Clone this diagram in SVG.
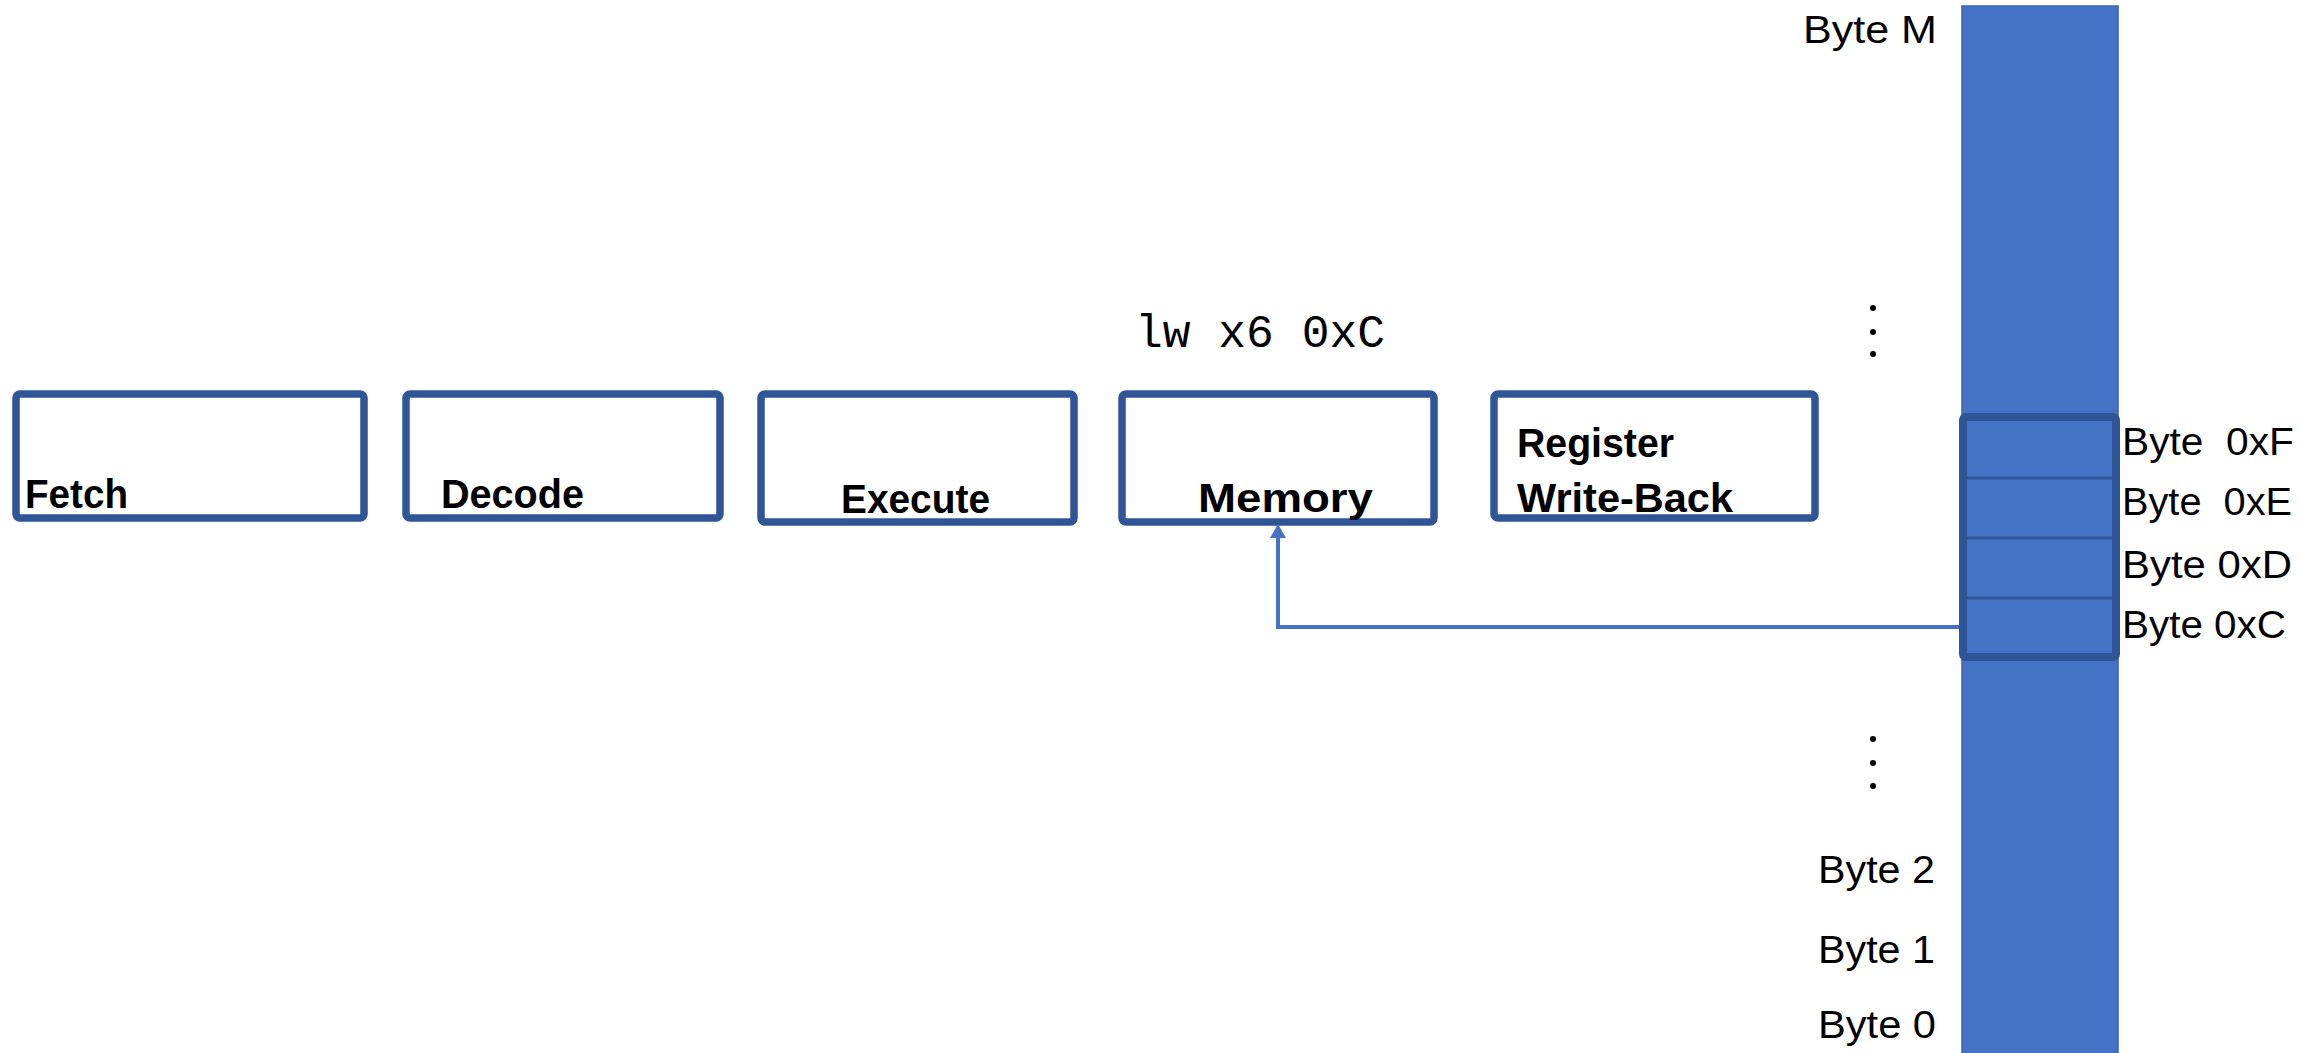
<svg xmlns="http://www.w3.org/2000/svg" width="2299" height="1053" viewBox="0 0 2299 1053">
  <style>
    .stage { fill: #ffffff; stroke: #2F5597; stroke-width: 7.5; }
    .stage-label { font-family: "Liberation Sans", Arial, sans-serif; font-weight: bold; font-size: 41px; fill: #000000; }
    .byte-label { font-family: "Liberation Sans", Arial, sans-serif; font-size: 39px; fill: #000000; white-space: pre; }
    .instr { font-family: "Liberation Mono", "Courier New", monospace; font-size: 46px; fill: #000000; white-space: pre; }
    .mem-col { fill: #4472C4; stroke: #3A62AC; stroke-width: 1.5; }
    .mem-sel { fill: #4472C4; stroke: #2F5597; stroke-width: 8; }
    .cell-div { stroke: #2F5597; stroke-width: 3; }
    .dot { fill: #000000; }
    .link { fill: none; stroke: #4472C4; stroke-width: 4; }
  </style>
  <defs>
    <marker id="arrow" viewBox="0 0 14 16" refX="0" refY="8" markerWidth="14" markerHeight="16" markerUnits="userSpaceOnUse" orient="auto">
      <path d="M0,0 L14,8 L0,16 z" fill="#4472C4"/>
    </marker>
  </defs>

  <rect width="2299" height="1053" fill="#ffffff"/>

  <!-- instruction currently in the memory stage -->
  <text id="instruction" class="instr" x="1135" y="347" textLength="250" lengthAdjust="spacingAndGlyphs">lw x6 0xC</text>

  <!-- pipeline stages -->
  <g id="fetch">
    <rect class="stage" x="16" y="394" width="348" height="124" rx="4"/>
    <text class="stage-label" x="25" y="508" textLength="103" lengthAdjust="spacingAndGlyphs">Fetch</text>
  </g>
  <g id="decode">
    <rect class="stage" x="406" y="394" width="314" height="124" rx="4"/>
    <text class="stage-label" x="441" y="508" textLength="143" lengthAdjust="spacingAndGlyphs">Decode</text>
  </g>
  <g id="execute">
    <rect class="stage" x="761" y="394" width="313" height="128" rx="4"/>
    <text class="stage-label" x="841" y="513" textLength="149" lengthAdjust="spacingAndGlyphs">Execute</text>
  </g>
  <g id="memory">
    <rect class="stage" x="1122" y="394" width="312" height="128" rx="4"/>
    <text class="stage-label" x="1198" y="512" textLength="175" lengthAdjust="spacingAndGlyphs">Memory</text>
  </g>
  <g id="writeback">
    <rect class="stage" x="1494" y="394" width="321" height="124" rx="4"/>
    <text class="stage-label" x="1517" y="457" textLength="157" lengthAdjust="spacingAndGlyphs">Register</text>
    <text class="stage-label" x="1517" y="512" textLength="216" lengthAdjust="spacingAndGlyphs">Write-Back</text>
  </g>

  <!-- byte-addressed memory column -->
  <g id="memory-array">
    <rect class="mem-col" x="1962" y="6" width="156" height="1052"/>
    <text class="byte-label" x="1803" y="43" textLength="134" lengthAdjust="spacingAndGlyphs">Byte M</text>
    <circle class="dot" cx="1873" cy="308" r="3"/>
    <circle class="dot" cx="1873" cy="332" r="3"/>
    <circle class="dot" cx="1873" cy="354" r="3"/>
    <circle class="dot" cx="1873" cy="739" r="3"/>
    <circle class="dot" cx="1873" cy="763" r="3"/>
    <circle class="dot" cx="1873" cy="786" r="3"/>
    <text class="byte-label" x="1818" y="883" textLength="117" lengthAdjust="spacingAndGlyphs">Byte 2</text>
    <text class="byte-label" x="1818" y="963" textLength="117" lengthAdjust="spacingAndGlyphs">Byte 1</text>
    <text class="byte-label" x="1818" y="1038" textLength="118" lengthAdjust="spacingAndGlyphs">Byte 0</text>
  </g>

  <!-- the word being loaded: bytes 0xC..0xF -->
  <g id="loaded-word">
    <rect class="mem-sel" x="1963" y="417" width="153" height="240" rx="3"/>
    <line class="cell-div" x1="1967" y1="478" x2="2112" y2="478"/>
    <line class="cell-div" x1="1967" y1="538" x2="2112" y2="538"/>
    <line class="cell-div" x1="1967" y1="598" x2="2112" y2="598"/>
    <text class="byte-label" x="2122" y="455" textLength="172" lengthAdjust="spacingAndGlyphs">Byte  0xF</text>
    <text class="byte-label" x="2122" y="515" textLength="170" lengthAdjust="spacingAndGlyphs">Byte  0xE</text>
    <text class="byte-label" x="2122" y="578" textLength="170" lengthAdjust="spacingAndGlyphs">Byte 0xD</text>
    <text class="byte-label" x="2122" y="638" textLength="164" lengthAdjust="spacingAndGlyphs">Byte 0xC</text>
  </g>

  <!-- connectors -->
  <g id="connectors">
    <path class="link" d="M1959,627 H1278 V538" marker-end="url(#arrow)"/>
  </g>
</svg>
